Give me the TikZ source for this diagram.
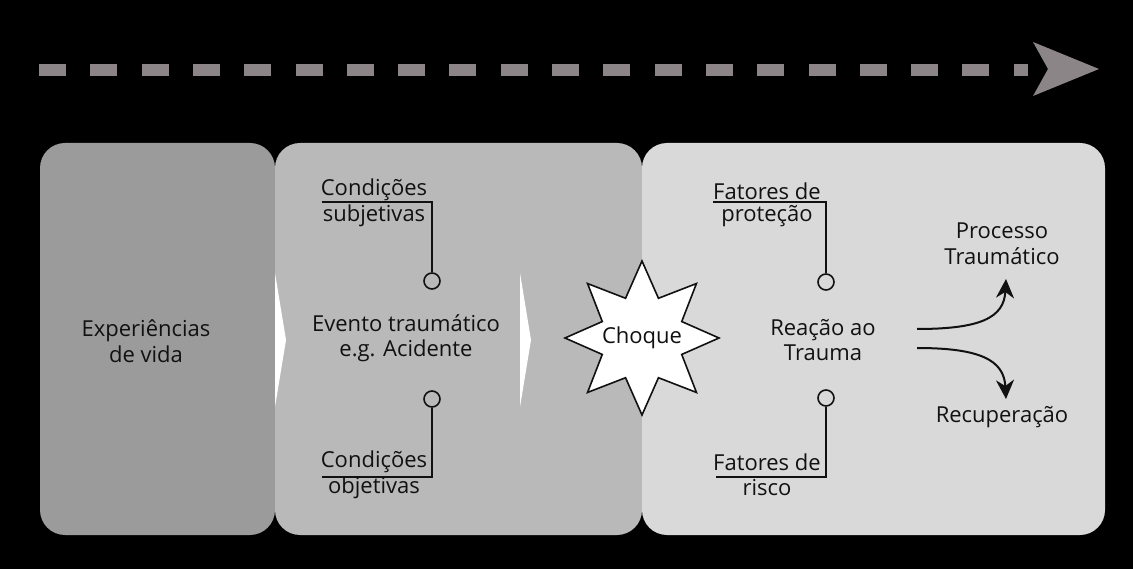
\documentclass[tikz,border=0pt]{standalone}
\usepackage{fontspec}
\setmainfont{Open Sans}
\usetikzlibrary{arrows.meta}
\definecolor{boxA}{HTML}{9B9B9B}
\definecolor{boxB}{HTML}{B9B9B9}
\definecolor{boxC}{HTML}{D9D9D9}
\definecolor{dashgray}{HTML}{8C8587}
\definecolor{ink}{HTML}{111111}
\begin{document}
\begin{tikzpicture}[x=1pt,y=-1pt,
  txt/.style={text=ink,align=center,inner sep=0pt,font=\fontsize{22}{25.5}\selectfont},
  ring/.style={circle,draw=ink,line width=1.6pt,minimum size=16pt,inner sep=0pt},
  lead/.style={draw=ink,line width=1.6pt},
  curvearr/.style={draw=ink,line width=2pt,-{Stealth[length=19pt,width=18pt,inset=6pt]}},
  dashline/.style={draw=dashgray,line width=12pt,dash pattern=on 27pt off 24.3pt},
  panel/.style={rounded corners=25pt}]
\fill[black] (0,0) rectangle (1133,569);
\useasboundingbox (0,0) rectangle (1133,569);
% dashed timeline arrow
\coordinate (d0) at (39,70);
\coordinate (d1) at (1028,70);
\draw[dashline] (d0) -- (d1);
\fill[dashgray] (1033,42) -- (1099,69) -- (1033,96) -- (1048,69) -- cycle;
% panels
\fill[boxA,panel] (40,143) rectangle (275,535);
\fill[boxB,panel] (275,143) rectangle (642,535);
\fill[boxC,panel] (642,143) rectangle (1105,535);
% white chevrons
\fill[white] (275,273) -- (286,340) -- (275,407) -- cycle;
\fill[white] (520,273) -- (531,340) -- (520,407) -- cycle;
% panel 1
\node[txt] (exp) at (146,341) {Experiências\\de vida};
% panel 2
\node[txt] (evt) at (406,338) {Evento traumático\\e.g. Acidente};
\node[txt] (cs1) at (374,190) {Condições};
\node[txt] (cs2) at (374,216) {subjetivas};
\node[txt] (co1) at (374,462) {Condições};
\node[txt] (co2) at (374,488) {objetivas};
\node[ring] (c1) at (432,281) {};
\node[ring] (c2) at (432,399) {};
\coordinate (l1) at (322,202);
\coordinate (l2) at (322,477);
\draw[lead] (l1) -| (c1.north);
\draw[lead] (l2) -| (c2.south);
% star
\coordinate (sc) at (642,338);
\filldraw[fill=white,draw=ink,line width=1.6pt,shift={(642,338)}]
  (90:77) -- (112.5:43) -- (135:77) -- (157.5:43) -- (180:77) -- (202.5:43)
  -- (225:77) -- (247.5:43) -- (270:77) -- (292.5:43) -- (315:77) -- (337.5:43)
  -- (0:77) -- (22.5:43) -- (45:77) -- (67.5:43) -- cycle;
\node[txt] (shock) at (sc) {Choque};
% panel 3
\node[txt] (reac) at (823,340) {Reação ao\\Trauma};
\node[txt] (fp1) at (767,191) {Fatores de};
\node[txt] (fp2) at (767,216) {proteção};
\node[txt] (fr1) at (767,462) {Fatores de};
\node[txt] (fr2) at (767,488) {risco};
\node[ring] (c3) at (826,282) {};
\node[ring] (c4) at (826,398) {};
\coordinate (l3) at (713,202);
\coordinate (l4) at (716,477);
\draw[lead] (l3) -| (c3.north);
\draw[lead] (l4) -| (c4.south);
\node[txt] (proc) at (1002,244) {Processo\\Traumático};
\node[txt] (rec) at (1002,417) {Recuperação};
\coordinate (a1s) at (917,329);
\coordinate (a1e) at (1006,279);
\coordinate (a2s) at (917,348);
\coordinate (a2e) at (1006,399);
\draw[curvearr] (a1s) .. controls (980,329) and (1004,318) .. (a1e);
\draw[curvearr] (a2s) .. controls (980,348) and (1004,360) .. (a2e);
\end{tikzpicture}
\end{document}
